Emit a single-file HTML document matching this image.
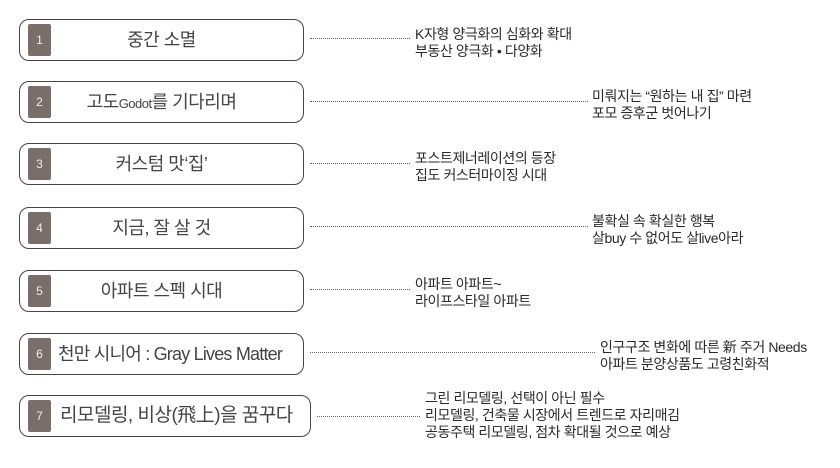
<!DOCTYPE html>
<html><head><meta charset="utf-8"><style>
body{margin:0;width:840px;height:468px;background:#fff;position:relative;overflow:hidden;font-family:"Liberation Sans","Noto Sans CJK KR",sans-serif;}
.box{position:absolute;left:19px;width:283px;height:40px;border:1.6px solid #4a4442;border-radius:10px;box-sizing:content-box;}
.num{position:absolute;left:8px;top:4px;width:23px;height:32px;background:#7a6e6b;border-radius:2px;color:#eee;font-size:12px;line-height:32px;text-align:center;}
.t{position:absolute;left:0;right:0;top:0;height:40px;line-height:40px;text-align:center;font-size:18px;color:#444;letter-spacing:-0.5px;white-space:nowrap;}
.dot{position:absolute;border-top:1.5px dotted #666;height:0;}
.d{position:absolute;font-size:14px;line-height:17px;color:#2a2a2a;white-space:nowrap;letter-spacing:-0.4px;}
</style></head><body>

<div class="box" style="top:19px"><div class="num">1</div><div class="t">중간 소멸</div></div>
<div class="dot" style="left:310px;width:100px;top:38px"></div>
<div class="d" style="left:415px;top:26px">K자형 양극화의 심화와 확대<br>부동산 양극화 • 다양화</div>

<div class="box" style="top:81px"><div class="num">2</div><div class="t">고도<span style="font-size:13px">Godot</span>를 기다리며</div></div>
<div class="dot" style="left:310px;width:278px;top:101px"></div>
<div class="d" style="left:592px;top:88px">미뤄지는 “원하는 내 집” 마련<br>포모 증후군 벗어나기</div>

<div class="box" style="top:143px"><div class="num">3</div><div class="t">커스텀 맛‘집’</div></div>
<div class="dot" style="left:310px;width:100px;top:163px"></div>
<div class="d" style="left:415px;top:150px">포스트제너레이션의 등장<br>집도 커스터마이징 시대</div>

<div class="box" style="top:207px"><div class="num">4</div><div class="t">지금, 잘 살 것</div></div>
<div class="dot" style="left:310px;width:278px;top:226px"></div>
<div class="d" style="left:592px;top:213px">불확실 속 확실한 행복<br>살buy 수 없어도 살live아라</div>

<div class="box" style="top:270px"><div class="num">5</div><div class="t">아파트 스펙 시대</div></div>
<div class="dot" style="left:310px;width:100px;top:289px"></div>
<div class="d" style="left:415px;top:276px">아파트 아파트~<br>라이프스타일 아파트</div>

<div class="box" style="top:333px"><div class="num">6</div><div class="t" style="left:38px;text-align:left;font-size:18px;letter-spacing:-0.8px">천만 시니어 : Gray Lives Matter</div></div>
<div class="dot" style="left:310px;width:285px;top:352px"></div>
<div class="d" style="left:600px;top:339px">인구구조 변화에 따른 新 주거 Needs<br>아파트 분양상품도 고령친화적</div>

<div class="box" style="top:395px;width:290px"><div class="num">7</div><div class="t" style="left:40px;text-align:left;font-size:19px">리모델링, 비상(飛上)을 꿈꾸다</div></div>
<div class="dot" style="left:317px;width:103px;top:416px"></div>
<div class="d" style="left:425px;top:390px">그린 리모델링, 선택이 아닌 필수<br>리모델링, 건축물 시장에서 트렌드로 자리매김<br>공동주택 리모델링, 점차 확대될 것으로 예상</div>

</body></html>
